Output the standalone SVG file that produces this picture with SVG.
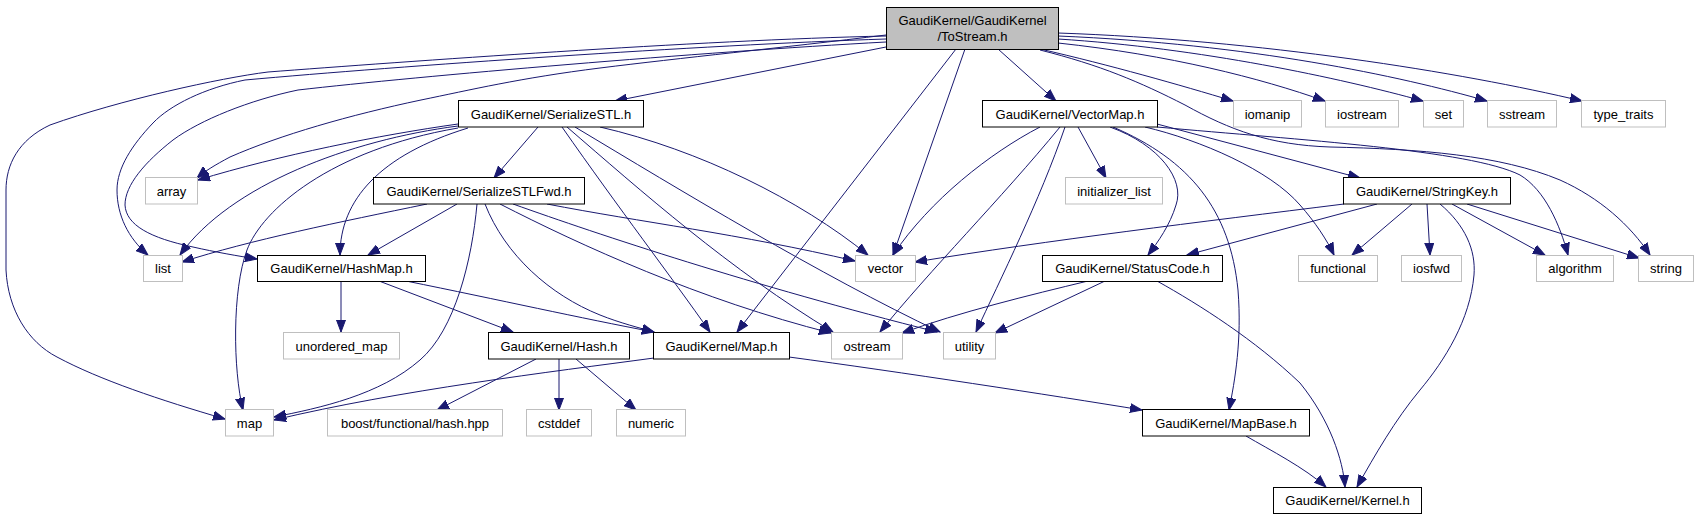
<svg xmlns="http://www.w3.org/2000/svg" width="1697" height="520" viewBox="0 0 1697 520">
<style>
.e{fill:none;stroke:#191970;stroke-width:1;marker-end:url(#ah)}
.n rect{fill:#fff;stroke:#000;stroke-width:1}
.g rect{fill:#fff;stroke:#bfbfbf;stroke-width:1}
.r rect{fill:#bfbfbf;stroke:#000;stroke-width:1}
text{font-family:"Liberation Sans",Arial,sans-serif;font-size:13px;fill:#000;text-anchor:middle}
</style>
<defs>
<marker id="ah" markerUnits="userSpaceOnUse" markerWidth="13" markerHeight="10" refX="12" refY="5" orient="auto">
<path d="M0,0.5 L12,5 L0,9.5 Z" fill="#191970" stroke="#191970" stroke-width="1"/>
</marker>
</defs>
<rect width="1697" height="520" fill="#fff"/>
<g id="edges">
<path class="e" d="M886,36 C700,40 400,62 268,72 C220,78 120,100 50,125 C18,140 6,165 6,190 L6,270 C8,310 28,342 57,357 C100,380 160,400 225,419"/>
<path class="e" d="M886,39 C700,45 400,66 245,80 C205,88 170,105 153,123 C132,145 117,168 117,190 C117,215 128,238 148,255"/>
<path class="e" d="M886,42 C700,52 420,76 298,90 C250,100 200,120 173,140 C145,162 125,185 125,205 C126,225 150,238 193,247 C215,252 238,256 257,259"/>
<path class="e" d="M886,35 C780,48 680,58 600,68 C520,78 470,90 421,100 C350,115 280,135 230,157 C215,165 205,171 197,178"/>
<path class="e" d="M886,47 L615,101"/>
<path class="e" d="M956,49 L737,332"/>
<path class="e" d="M965,49 L893,255"/>
<path class="e" d="M998,49 L1056,101"/>
<path class="e" d="M1040,49 C1110,65 1180,85 1233,101"/>
<path class="e" d="M1058,43 C1170,55 1260,78 1325,101"/>
<path class="e" d="M1058,39 C1200,48 1340,78 1423,101"/>
<path class="e" d="M1058,36 C1250,44 1400,76 1487,101"/>
<path class="e" d="M1058,33 C1260,40 1460,72 1582,101"/>
<path class="e" d="M1040,50 C1100,65 1140,82 1185,105 C1230,130 1270,145 1330,147 C1420,149 1500,155 1560,180 C1600,198 1630,225 1650,255"/>
<path class="e" d="M538,127 L494,178"/>
<path class="e" d="M562,127 C620,210 670,275 710,332"/>
<path class="e" d="M567,127 C640,190 730,270 833,332"/>
<path class="e" d="M575,127 C680,190 820,275 940,332"/>
<path class="e" d="M600,127 C700,150 800,200 868,255"/>
<path class="e" d="M458,124 C380,135 280,155 198,180"/>
<path class="e" d="M458,126 C350,140 230,185 180,255"/>
<path class="e" d="M458,128 C330,150 262,210 247,250 C232,290 233,370 243,410"/>
<path class="e" d="M468,128 C380,155 340,200 340,255"/>
<path class="e" d="M427,204 C340,222 250,240 182,262"/>
<path class="e" d="M457,204 L368,255"/>
<path class="e" d="M477,204 C472,260 455,330 420,360 C380,395 320,408 274,417"/>
<path class="e" d="M485,204 C505,255 550,295 600,315 C620,323 640,328 654,332"/>
<path class="e" d="M500,204 C580,245 700,300 831,333"/>
<path class="e" d="M513,204 C600,235 750,285 937,332"/>
<path class="e" d="M547,204 C640,222 740,234 855,261"/>
<path class="e" d="M1040,127 C990,153 930,200 893,255"/>
<path class="e" d="M1060,127 C1000,200 930,270 880,332"/>
<path class="e" d="M1065,127 C1040,200 1000,280 976,332"/>
<path class="e" d="M1078,127 L1106,178"/>
<path class="e" d="M1110,127 C1160,145 1185,180 1176,205 C1170,225 1158,242 1148,255"/>
<path class="e" d="M1113,127 C1190,160 1230,210 1238,290 C1242,340 1235,380 1229,410"/>
<path class="e" d="M1145,127 C1200,140 1270,170 1300,205 C1315,222 1327,240 1334,255"/>
<path class="e" d="M1157,124 L1360,178"/>
<path class="e" d="M1157,127 C1300,140 1470,150 1520,175 C1545,190 1560,225 1568,255"/>
<path class="e" d="M1344,204 C1200,222 1050,240 915,262"/>
<path class="e" d="M1377,204 L1187,255"/>
<path class="e" d="M1412,204 L1352,255"/>
<path class="e" d="M1427,204 L1430,255"/>
<path class="e" d="M1440,204 C1465,225 1476,250 1474,275 C1470,320 1445,360 1420,390 C1395,420 1375,455 1357,487"/>
<path class="e" d="M1452,204 L1545,255"/>
<path class="e" d="M1467,204 L1639,258"/>
<path class="e" d="M1088,281 C1030,295 960,312 902,333"/>
<path class="e" d="M1105,281 L995,333"/>
<path class="e" d="M1157,281 C1200,305 1255,340 1300,383 C1330,420 1343,460 1345,487"/>
<path class="e" d="M341,281 L341,332"/>
<path class="e" d="M379,281 L513,332"/>
<path class="e" d="M406,281 C500,300 580,318 654,332"/>
<path class="e" d="M536,359 L437,410"/>
<path class="e" d="M559,359 L559,410"/>
<path class="e" d="M576,359 L636,410"/>
<path class="e" d="M654,358 C550,372 400,390 274,420"/>
<path class="e" d="M789,357 C900,372 1050,395 1142,410"/>
<path class="e" d="M1246,436 C1270,450 1305,468 1326,487"/>
</g>
<g id="node-tostream" class="r"><rect x="886.5" y="7.5" width="172" height="42"/><text x="972.5" y="25">GaudiKernel/GaudiKernel</text><text x="972.5" y="40.5">/ToStream.h</text></g>
<g id="node-serializestl" class="n"><rect x="458.5" y="100.5" width="185" height="26.5"/><text x="551" y="118.5">GaudiKernel/SerializeSTL.h</text></g>
<g id="node-vectormap" class="n"><rect x="982.5" y="100.5" width="175" height="26.5"/><text x="1070" y="118.5">GaudiKernel/VectorMap.h</text></g>
<g id="node-iomanip" class="g"><rect x="1233.5" y="100.5" width="68" height="26.5"/><text x="1267.5" y="118.5">iomanip</text></g>
<g id="node-iostream" class="g"><rect x="1325.5" y="100.5" width="73" height="26.5"/><text x="1362" y="118.5">iostream</text></g>
<g id="node-set" class="g"><rect x="1423.5" y="100.5" width="40" height="26.5"/><text x="1443.5" y="118.5">set</text></g>
<g id="node-sstream" class="g"><rect x="1487.5" y="100.5" width="69" height="26.5"/><text x="1522" y="118.5">sstream</text></g>
<g id="node-type_traits" class="g"><rect x="1581.5" y="100.5" width="84" height="26.5"/><text x="1623.5" y="118.5">type_traits</text></g>
<g id="node-array" class="g"><rect x="145.5" y="177.5" width="52" height="26.5"/><text x="171.5" y="195.5">array</text></g>
<g id="node-serializestlfwd" class="n"><rect x="373.5" y="177.5" width="211" height="26.5"/><text x="479" y="195.5">GaudiKernel/SerializeSTLFwd.h</text></g>
<g id="node-initializer_list" class="g"><rect x="1065.5" y="177.5" width="97" height="26.5"/><text x="1114" y="195.5">initializer_list</text></g>
<g id="node-stringkey" class="n"><rect x="1343.5" y="177.5" width="167" height="26.5"/><text x="1427" y="195.5">GaudiKernel/StringKey.h</text></g>
<g id="node-list" class="g"><rect x="143.5" y="255.5" width="39" height="26"/><text x="163" y="273">list</text></g>
<g id="node-hashmap" class="n"><rect x="257.5" y="255.5" width="168" height="26"/><text x="341.5" y="273">GaudiKernel/HashMap.h</text></g>
<g id="node-vector" class="g"><rect x="855.5" y="255.5" width="60" height="26"/><text x="885.5" y="273">vector</text></g>
<g id="node-statuscode" class="n"><rect x="1042.5" y="255.5" width="180" height="26"/><text x="1132.5" y="273">GaudiKernel/StatusCode.h</text></g>
<g id="node-functional" class="g"><rect x="1298.5" y="255.5" width="79" height="26"/><text x="1338" y="273">functional</text></g>
<g id="node-iosfwd" class="g"><rect x="1401.5" y="255.5" width="60" height="26"/><text x="1431.5" y="273">iosfwd</text></g>
<g id="node-algorithm" class="g"><rect x="1536.5" y="255.5" width="77" height="26"/><text x="1575" y="273">algorithm</text></g>
<g id="node-string" class="g"><rect x="1638.5" y="255.5" width="55" height="26"/><text x="1666" y="273">string</text></g>
<g id="node-unordered_map" class="g"><rect x="283.5" y="332.5" width="116" height="26.5"/><text x="341.5" y="350.5">unordered_map</text></g>
<g id="node-hash" class="n"><rect x="488.5" y="332.5" width="141" height="26.5"/><text x="559" y="350.5">GaudiKernel/Hash.h</text></g>
<g id="node-map-h" class="n"><rect x="653.5" y="332.5" width="136" height="26.5"/><text x="721.5" y="350.5">GaudiKernel/Map.h</text></g>
<g id="node-ostream" class="g"><rect x="831.5" y="332.5" width="71" height="26.5"/><text x="867" y="350.5">ostream</text></g>
<g id="node-utility" class="g"><rect x="943.5" y="332.5" width="52" height="26.5"/><text x="969.5" y="350.5">utility</text></g>
<g id="node-map" class="g"><rect x="225.5" y="409.5" width="48" height="26.5"/><text x="249.5" y="427.5">map</text></g>
<g id="node-boost" class="g"><rect x="327.5" y="409.5" width="175" height="26.5"/><text x="415" y="427.5">boost/functional/hash.hpp</text></g>
<g id="node-cstddef" class="g"><rect x="526.5" y="409.5" width="65" height="26.5"/><text x="559" y="427.5">cstddef</text></g>
<g id="node-numeric" class="g"><rect x="616.5" y="409.5" width="69" height="26.5"/><text x="651" y="427.5">numeric</text></g>
<g id="node-mapbase" class="n"><rect x="1142.5" y="409.5" width="167" height="26.5"/><text x="1226" y="427.5">GaudiKernel/MapBase.h</text></g>
<g id="node-kernel" class="n"><rect x="1273.5" y="487.5" width="148" height="26"/><text x="1347.5" y="505">GaudiKernel/Kernel.h</text></g>
</svg>
